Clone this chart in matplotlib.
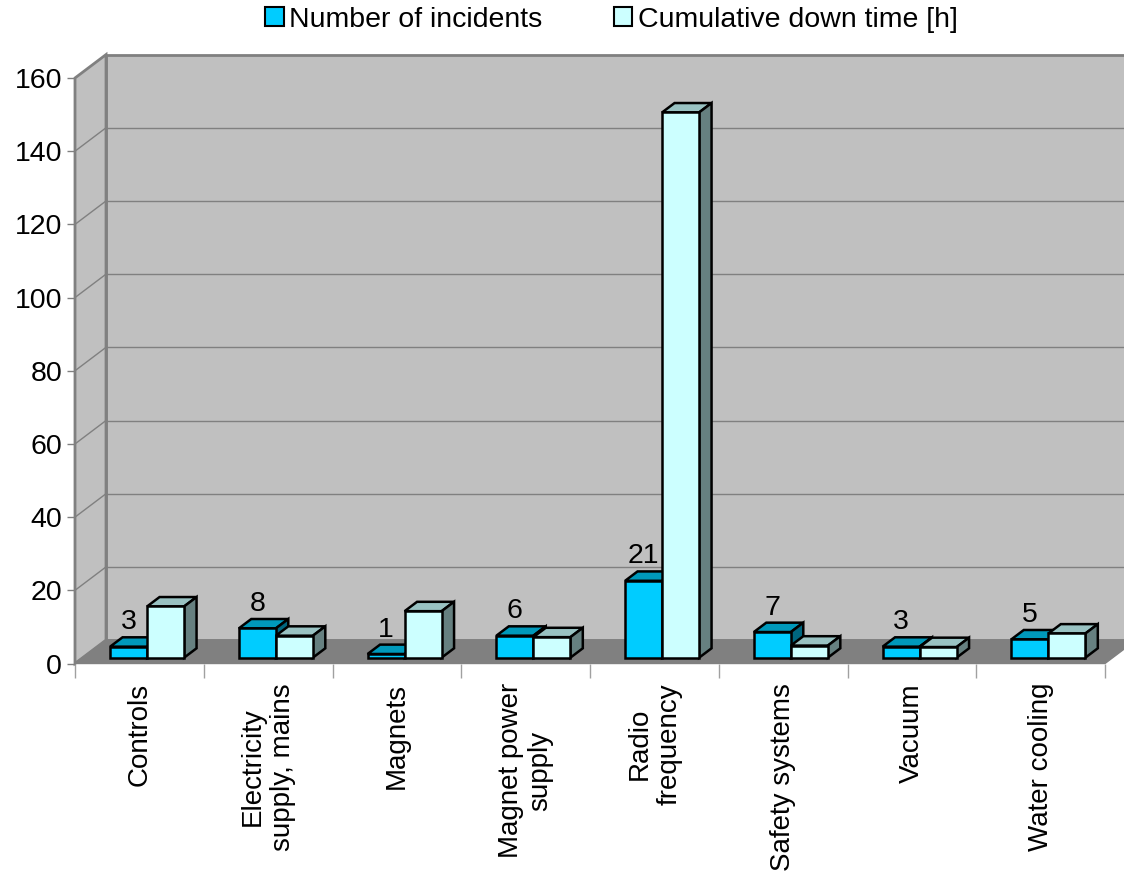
import numpy as np
import matplotlib
matplotlib.use('Agg')
import matplotlib.pyplot as plt
from matplotlib.patches import Polygon, Rectangle

plt.rcParams['font.family'] = ['Liberation Sans', 'DejaVu Sans']

# data
categories = ['Controls', 'Electricity\nsupply, mains', 'Magnets', 'Magnet power\nsupply',
              'Radio\nfrequency', 'Safety systems', 'Vacuum', 'Water cooling']
incidents = [3, 8, 1, 6, 21, 7, 3, 5]
down_time = [14, 6, 12.7, 5.6, 149, 3.3, 2.9, 6.6]
series_names = ['Number of incidents', 'Cumulative down time [h]']
y_ticks = [0, 20, 40, 60, 80, 100, 120, 140, 160]

# colours: front, top, side
blue = ('#00ccff', '#0099bb', '#00667f')
cyan = ('#ccffff', '#99c2c2', '#668080')
wall_col = '#c0c0c0'
floor_col = '#808080'
grid_col = '#808080'

# fake 3d geometry (in data units)
DX, DY = 0.241, 6.4       # depth of the walls
F0, F1 = 0.25, 0.65       # front/back of the bars as fraction of the depth
BW = 0.2875               # bar width
n = len(categories)
ymax = y_ticks[-1]

fig = plt.figure(figsize=(11.24, 8.74), dpi=100)
ax = fig.add_axes([75 / 1124, (874 - 663.5) / 874, 1030 / 1124, 585.5 / 874])
ax.set_xlim(0, n)
ax.set_ylim(0, ymax)
ax.patch.set_visible(False)
for s in ax.spines.values():
    s.set_visible(False)


def poly(pts, fc, ec, lw, z):
    ax.add_patch(Polygon(pts, closed=True, facecolor=fc, edgecolor=ec, linewidth=lw,
                         clip_on=False, zorder=z, joinstyle='miter'))


# walls and floor
poly([(DX, DY), (n + DX, DY), (n + DX, ymax + DY), (DX, ymax + DY)], wall_col, grid_col, 2, 1)
poly([(0, 0), (DX, DY), (DX, ymax + DY), (0, ymax)], wall_col, grid_col, 2, 1)
poly([(0, 0), (n, 0), (n + DX, DY), (DX, DY)], floor_col, floor_col, 1, 1)
for v in y_ticks[1:-1]:
    ax.plot([DX, n + DX], [v + DY, v + DY], color=grid_col, lw=1, clip_on=False, zorder=2)
    ax.plot([0, DX], [v, v + DY], color=grid_col, lw=1, clip_on=False, zorder=2)


def bar3d(x0, v, cols, z):
    x1 = x0 + BW
    ax0, ay0 = F0 * DX, F0 * DY
    bx0, by0 = F1 * DX, F1 * DY
    front = [(x0 + ax0, ay0), (x1 + ax0, ay0), (x1 + ax0, v + ay0), (x0 + ax0, v + ay0)]
    top = [(x0 + ax0, v + ay0), (x1 + ax0, v + ay0), (x1 + bx0, v + by0), (x0 + bx0, v + by0)]
    side = [(x1 + ax0, ay0), (x1 + bx0, by0), (x1 + bx0, v + by0), (x1 + ax0, v + ay0)]
    poly(top, cols[1], 'black', 1.8, z)
    poly(side, cols[2], 'black', 1.8, z)
    poly(front, cols[0], 'black', 1.8, z)


z = 3
for i in range(n):
    c = i + 0.5
    bar3d(c - BW, incidents[i], blue, z)
    bar3d(c, down_time[i], cyan, z + 1)
    z += 2
    ax.text(c - BW / 2 + F0 * DX, incidents[i] + F1 * DY + 2.2, str(incidents[i]),
            ha='center', va='baseline', fontsize=20.5, zorder=50)

# axes ticks
ax.set_yticks(y_ticks)
ax.tick_params(axis='y', length=5.8, width=1, color=grid_col, labelsize=20.5, pad=3.5)
ax.set_xticks(np.arange(n + 1))
ax.set_xticklabels([])
ax.set_xticks(np.arange(n) + 0.5, categories, minor=True)
ax.tick_params(axis='x', which='major', length=10, width=1, color='#a0a0a0')
ax.tick_params(axis='x', which='minor', length=0, pad=14, labelsize=20, labelrotation=90)
for lbl in ax.get_xticklabels(minor=True):
    lbl.set_multialignment('center')

handles = [Rectangle((0, 0), 1, 1, facecolor=blue[0], edgecolor='black', lw=1.5),
           Rectangle((0, 0), 1, 1, facecolor=cyan[0], edgecolor='black', lw=1.5)]
fig.legend(handles, series_names, loc='upper center', bbox_to_anchor=(0.544, 1.012), ncol=2,
           frameon=False, fontsize=20.5, handlelength=0.65, handleheight=0.65,
           handletextpad=0.2, columnspacing=2.5, borderaxespad=0.2)

fig.savefig('out.png', dpi=100)
